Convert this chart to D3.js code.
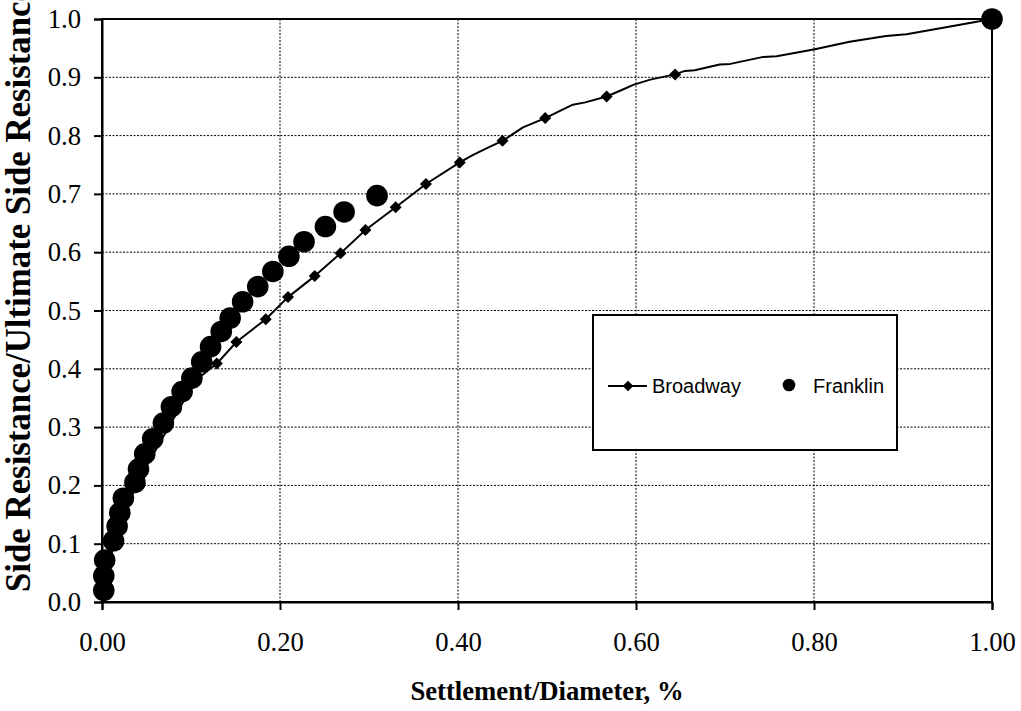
<!DOCTYPE html>
<html>
<head>
<meta charset="utf-8">
<script src="https://cdn.jsdelivr.net/npm/d3@7"></script>
<style>
  html, body { margin: 0; padding: 0; background: #fff; }
  svg { display: block; }
  .tick-label { font-family: "Liberation Serif", "Times New Roman", serif; font-size: 26.7px; fill: #000; }
  .axis-title { font-family: "Liberation Serif", "Times New Roman", serif; font-weight: bold; fill: #000; }
  .legend-text { font-family: "Liberation Sans", Arial, sans-serif; font-size: 20px; fill: #000; }
</style>
</head>
<body>
<div id="chart"></div>
<script>
// ===== Config =====
const WIDTH = 1021, HEIGHT = 711;
const M = { top: 19, right: 29, bottom: 109, left: 102 };

// ===== Data =====
const xTicks = [0, 0.2, 0.4, 0.6, 0.8, 1.0];
const yTicks = [0, 0.1, 0.2, 0.3, 0.4, 0.5, 0.6, 0.7, 0.8, 0.9, 1.0];

// Franklin (large circles)
const franklinX = [0.002, 0.002, 0.003, 0.013, 0.017, 0.020, 0.024, 0.037, 0.041, 0.048, 0.057, 0.069, 0.078,
  0.090, 0.101, 0.112, 0.122, 0.134, 0.144, 0.158, 0.175, 0.192, 0.210, 0.227, 0.251, 0.272, 0.309, 1.0];
const franklinY = [0.020, 0.045, 0.072, 0.105, 0.130, 0.153, 0.178, 0.205, 0.228, 0.254, 0.280, 0.307, 0.335,
  0.361, 0.384, 0.412, 0.438, 0.464, 0.487, 0.515, 0.541, 0.567, 0.593, 0.618, 0.644, 0.669, 0.697, 1.0];

// Broadway full record (line)
const broadwayX = [0, 0.008, 0.018, 0.030, 0.045, 0.060, 0.075, 0.090, 0.105, 0.129, 0.151, 0.184, 0.209,
  0.239, 0.268, 0.296, 0.330, 0.364, 0.402, 0.417, 0.436, 0.450, 0.473, 0.498, 0.529, 0.543, 0.567, 0.582,
  0.597, 0.616, 0.644, 0.655, 0.666, 0.694, 0.706, 0.743, 0.758, 0.801, 0.840, 0.881, 0.904, 0.953, 1.0];
const broadwayY = [0, 0.070, 0.120, 0.170, 0.220, 0.260, 0.300, 0.340, 0.380, 0.409, 0.446, 0.485, 0.523,
  0.559, 0.598, 0.638, 0.677, 0.717, 0.754, 0.767, 0.781, 0.791, 0.814, 0.830, 0.853, 0.857, 0.867, 0.877,
  0.887, 0.896, 0.905, 0.911, 0.912, 0.922, 0.923, 0.935, 0.936, 0.948, 0.961, 0.971, 0.974, 0.987, 1.0];

// Broadway marked readings (diamonds)
const broadwayMarkX = [0.129, 0.151, 0.184, 0.209, 0.239, 0.268, 0.296, 0.330, 0.364, 0.402, 0.450, 0.498, 0.567, 0.644];
const broadwayMarkY = [0.409, 0.446, 0.485, 0.523, 0.559, 0.598, 0.638, 0.677, 0.717, 0.754, 0.791, 0.830, 0.867, 0.905];

const seriesNames = ["Broadway", "Franklin"];

// ===== Build =====
const w = WIDTH - M.left - M.right;
const h = HEIGHT - M.top - M.bottom;

const svg = d3.select("#chart").append("svg")
  .attr("width", WIDTH).attr("height", HEIGHT);

const x = d3.scaleLinear().domain([0, 1]).range([0, w]);
const y = d3.scaleLinear().domain([0, 1]).range([h, 0]);

const plot = svg.append("g").attr("transform", `translate(${M.left},${M.top})`);

// grid (dotted)
plot.append("g").selectAll("line.gy").data(yTicks.filter(d => d > 0 && d < 1)).join("line")
  .attr("class", "gy")
  .attr("x1", 0).attr("x2", w)
  .attr("y1", d => y(d)).attr("y2", d => y(d))
  .attr("stroke", "#000").attr("stroke-width", 1).attr("stroke-dasharray", "2,1.5");
plot.append("g").selectAll("line.gx").data(xTicks.filter(d => d > 0 && d < 1)).join("line")
  .attr("class", "gx")
  .attr("y1", 0).attr("y2", h)
  .attr("x1", d => x(d)).attr("x2", d => x(d))
  .attr("stroke", "#000").attr("stroke-width", 1).attr("stroke-dasharray", "2,1.5");

// plot frame
plot.append("rect").attr("x", 0).attr("y", 0).attr("width", w).attr("height", h)
  .attr("fill", "none").attr("stroke", "#000").attr("stroke-width", 2);

// axes
const xAxis = plot.append("g").attr("transform", `translate(0,${h})`)
  .call(d3.axisBottom(x).tickValues(xTicks).tickFormat(d3.format(".2f")).tickSize(8).tickPadding(22));
const yAxis = plot.append("g")
  .call(d3.axisLeft(y).tickValues(yTicks).tickFormat(d3.format(".1f")).tickSize(8).tickPadding(13));
[xAxis, yAxis].forEach(g => {
  g.select(".domain").attr("stroke", "#000").attr("stroke-width", 2);
  g.selectAll(".tick line").attr("stroke", "#000").attr("stroke-width", 2);
  g.selectAll(".tick text").attr("class", "tick-label").attr("font-size", null).attr("font-family", null);
});
xAxis.selectAll(".tick text").attr("dy", "0.71em");

// Broadway line + diamonds
const bwData = broadwayX.map((v, i) => ({ x: v, y: broadwayY[i] }));
plot.append("path").datum(bwData)
  .attr("fill", "none").attr("stroke", "#000").attr("stroke-width", 2)
  .attr("stroke-linejoin", "round")
  .attr("d", d3.line().x(d => x(d.x)).y(d => y(d.y)));

const diamond = d3.symbol().type(d3.symbolDiamond2).size(92);
plot.selectAll("path.dm").data(broadwayMarkX.map((v, i) => ({ x: v, y: broadwayMarkY[i] }))).join("path")
  .attr("class", "dm")
  .attr("transform", d => `translate(${x(d.x)},${y(d.y)})`)
  .attr("d", diamond).attr("fill", "#000");

// Franklin circles
plot.selectAll("circle.fr").data(franklinX.map((v, i) => ({ x: v, y: franklinY[i] }))).join("circle")
  .attr("class", "fr")
  .attr("cx", d => x(d.x)).attr("cy", d => y(d.y))
  .attr("r", 10.8).attr("fill", "#000");

// axis titles
svg.append("text").attr("class", "axis-title")
  .attr("x", M.left + w / 2).attr("y", 700)
  .attr("text-anchor", "middle").attr("font-size", 26.7)
  .text("Settlement/Diameter, %");
svg.append("text").attr("class", "axis-title")
  .attr("text-anchor", "start").attr("font-size", 34.8)
  .attr("transform", `translate(30, 592) rotate(-90)`)
  .text("Side Resistance/Ultimate Side Resistance");

// legend
const lg = svg.append("g").attr("transform", "translate(593,315)");
lg.append("rect").attr("width", 304).attr("height", 135)
  .attr("fill", "#fff").attr("stroke", "#000").attr("stroke-width", 2);
const ly = 71;
lg.append("line").attr("x1", 15).attr("x2", 54).attr("y1", ly).attr("y2", ly)
  .attr("stroke", "#000").attr("stroke-width", 2);
lg.append("path").attr("transform", `translate(35,${ly})`)
  .attr("d", d3.symbol().type(d3.symbolDiamond2).size(72)).attr("fill", "#000");
lg.append("text").attr("class", "legend-text").attr("x", 59).attr("y", ly + 7).text(seriesNames[0]);
lg.append("circle").attr("cx", 196).attr("cy", ly - 1).attr("r", 6.3).attr("fill", "#000");
lg.append("text").attr("class", "legend-text").attr("x", 220).attr("y", ly + 7).text(seriesNames[1]);
</script>
</body>
</html>
